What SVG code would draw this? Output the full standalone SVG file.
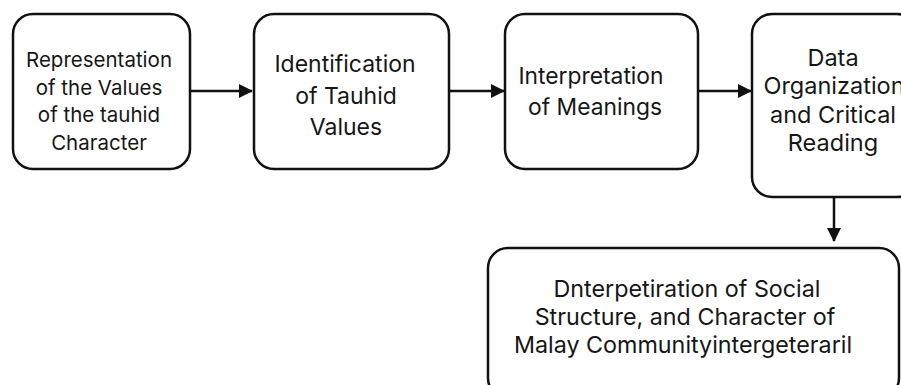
<svg xmlns="http://www.w3.org/2000/svg" width="901" height="385" viewBox="0 0 901 385">
<style>
.box{fill:#fff;stroke:#111;stroke-width:2.5}
.t{font-family:Inter,"Liberation Sans",sans-serif;fill:#161616;text-anchor:middle}
.c{stroke:#111;stroke-width:2.5;fill:none}
</style>
<defs>
<marker id="ah" markerWidth="14" markerHeight="14" refX="13" refY="7" orient="auto" markerUnits="userSpaceOnUse">
<path d="M0,0 L14,7 L0,14 Z" fill="#111"/>
</marker>
</defs>
<rect width="901" height="385" fill="#fff"/>
<g id="n1">
<rect class="box" x="13" y="14" width="177" height="155" rx="20"/>
<text class="t" font-size="20.5"><tspan x="99" y="67">Representation</tspan><tspan x="99" y="94.5">of the Values</tspan><tspan x="99" y="122">of the tauhid</tspan><tspan x="99" y="149.5">Character</tspan></text>
</g>
<g id="n2">
<rect class="box" x="254" y="14" width="195" height="155" rx="20"/>
<text class="t" font-size="23"><tspan x="345" y="71.5">Identification</tspan><tspan x="346" y="103.5">of Tauhid</tspan><tspan x="346" y="135">Values</tspan></text>
</g>
<g id="n3">
<rect class="box" x="505" y="14" width="193" height="155" rx="20"/>
<text class="t" font-size="22.8"><tspan x="591" y="83.5">Interpretation</tspan><tspan x="595" y="115">of Meanings</tspan></text>
</g>
<g id="n4">
<rect class="box" x="752" y="14" width="165" height="183" rx="20"/>
<text class="t" font-size="23.5"><tspan x="833" y="66">Data</tspan><tspan x="834" y="94.3">Organization</tspan><tspan x="833" y="122.6">and Critical</tspan><tspan x="833" y="150.8">Reading</tspan></text>
</g>
<g id="n5">
<rect class="box" x="488" y="248" width="411" height="150" rx="20"/>
<text class="t" font-size="23.3"><tspan x="687" y="296.5">Dnterpetiration of Social</tspan><tspan x="685" y="325">Structure, and Character of</tspan><tspan x="683" y="353">Malay Communityintergeteraril</tspan></text>
</g>
<g id="connectors">
<line class="c" x1="190" y1="91" x2="252" y2="91" marker-end="url(#ah)"/>
<line class="c" x1="449" y1="91" x2="504" y2="91" marker-end="url(#ah)"/>
<line class="c" x1="698" y1="91" x2="751" y2="91" marker-end="url(#ah)"/>
<line class="c" x1="834" y1="197" x2="834" y2="241" marker-end="url(#ah)"/>
</g>
</svg>
